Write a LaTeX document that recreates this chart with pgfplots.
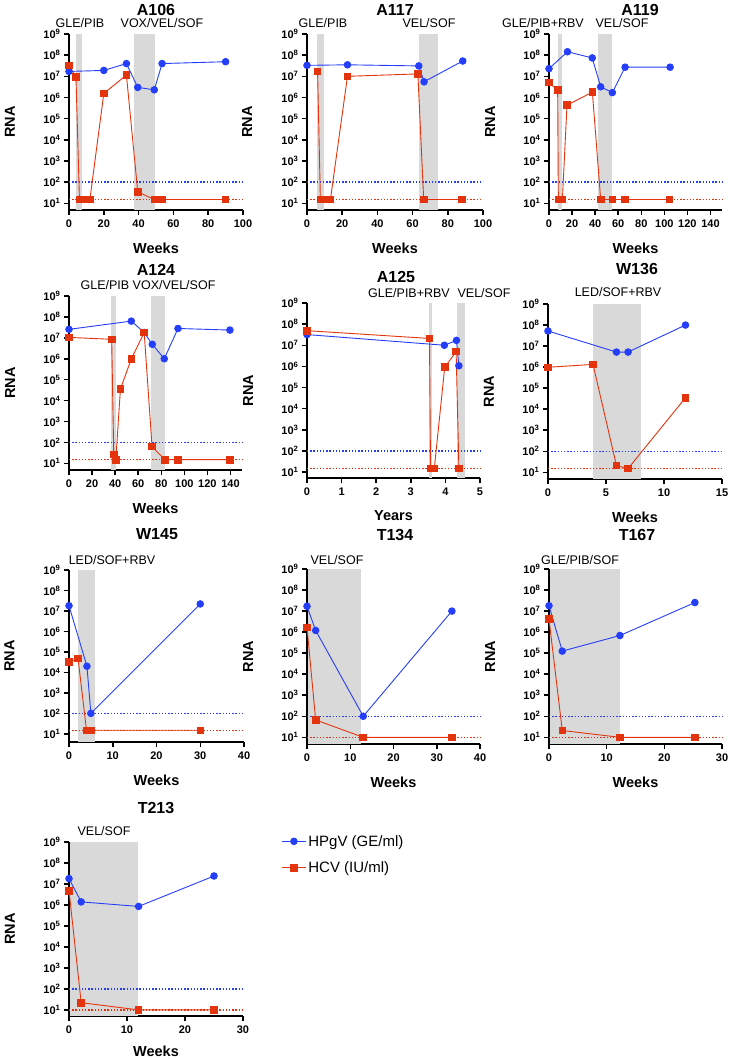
\documentclass[border=0pt]{standalone}
\usepackage{pgfplots}
\pgfplotsset{compat=1.18}
\usepackage{fontspec}
\setmainfont{Liberation Sans}
\definecolor{cblue}{RGB}{36,62,250}
\definecolor{cred}{RGB}{228,52,14}
\definecolor{bandgray}{RGB}{217,217,217}
\newcommand{\tf}{\bfseries\fontsize{11}{13}\selectfont}
\newcommand{\tp}[1]{{\tf 10\textsuperscript{#1}}}
\pgfplotsset{every axis/.append style={
    scale only axis, ymax=1e9, xmin=0,
    axis x line=bottom, axis y line=left,
    axis line style={-, line width=1.5pt, black},
    tick style={line width=1.5pt, black},
    tick align=outside, major tick length=5pt,
    ytick={1e1,1e2,1e3,1e4,1e5,1e6,1e7,1e8,1e9},
    yticklabels={\tp{1},\tp{2},\tp{3},\tp{4},\tp{5},\tp{6},\tp{7},\tp{8},\tp{9}},
    xticklabel={\tf\pgfmathprintnumber{\tick}},
    yminorticks=false, xminorticks=false,
    xticklabel style={yshift=-1.5pt},
    xlabel style={at={(axis description cs:0.5,0)}, anchor=center, yshift=-38pt, font=\bfseries\fontsize{14.5}{17}\selectfont},
    ylabel style={at={(axis description cs:-0.34,0.5)}, anchor=center, font=\bfseries\fontsize{14.5}{17}\selectfont},
    clip=false,
  }}
\newcommand{\bandplot}[3]{\addplot[fill=bandgray, draw=none, forget plot] coordinates {(#1,#3) (#2,#3) (#2,1e9) (#1,1e9)};}
\newcommand{\ttl}[1]{\bfseries\fontsize{16}{19}\selectfont #1}
\newcommand{\trt}[1]{\fontsize{12.5}{15}\selectfont #1}
\begin{document}
\begin{tikzpicture}
\useasboundingbox (0pt,0pt) rectangle (730pt,-1059pt);

% A106
\begin{axis}[ymode=log, ymin=4.8, anchor=south west, at={(69pt,-210pt)}, width=174pt, height=176pt, xmax=100, xtick={0,20,...,100}, xlabel=Weeks, ylabel=RNA, /pgf/number format/assume math mode=true]
\bandplot{4}{7.5}{4.8}
\bandplot{37.5}{49.5}{4.8}
\addplot[cblue, line width=1.3pt, dash pattern=on 1.3pt off 1.9pt, forget plot] coordinates {(0,100) (100,100)};
\addplot[cred, line width=1.3pt, dash pattern=on 1.3pt off 1.9pt, forget plot] coordinates {(0,15) (100,15)};
\addplot[cblue, line width=0.9pt, mark=*, mark size=3.3pt, mark options={solid, fill=cblue}] coordinates {(0,1.7e7) (20,1.9e7) (33,4e7) (39.5,3e6) (49,2.3e6) (53.5,4e7) (90,4.9e7)};
\addplot[cred, line width=0.9pt, mark=square*, mark size=3.3pt, mark options={solid, fill=cred}] coordinates {(0,3.2e7) (4,9.5e6) (6,15) (9,15) (12,15) (20,1.55e6) (33,1.15e7) (39.5,35) (49,15) (53.5,15) (90,15)};
\end{axis}
\node at (156pt,-10pt) {\ttl{A106}};
\node at (80pt,-23pt) {\trt{GLE/PIB}};
\node at (162pt,-23pt) {\trt{VOX/VEL/SOF}};

% A117
\begin{axis}[ymode=log, ymin=4.8, anchor=south west, at={(307pt,-210pt)}, width=176pt, height=176pt, xmax=100, xtick={0,20,...,100}, xlabel=Weeks, ylabel=RNA, /pgf/number format/assume math mode=true]
\bandplot{5.7}{9.5}{4.8}
\bandplot{63.5}{74.2}{4.8}
\addplot[cblue, line width=1.3pt, dash pattern=on 1.3pt off 1.9pt, forget plot] coordinates {(0,100) (100,100)};
\addplot[cred, line width=1.3pt, dash pattern=on 1.3pt off 1.9pt, forget plot] coordinates {(0,15) (100,15)};
\addplot[cblue, line width=0.9pt, mark=*, mark size=3.3pt, mark options={solid, fill=cblue}] coordinates {(0,3.3e7) (23,3.5e7) (63.5,3.1e7) (66.5,5.5e6) (88.5,5.3e7)};
\addplot[cred, line width=0.9pt, mark=square*, mark size=3.3pt, mark options={solid, fill=cred}] coordinates {(6,1.7e7) (7.6,15) (10.4,15) (13.3,15) (23,1.0e7) (63,1.3e7) (66.3,15) (88,15)};
\end{axis}
\node at (395pt,-10pt) {\ttl{A117}};
\node at (323pt,-23pt) {\trt{GLE/PIB}};
\node at (429pt,-23pt) {\trt{VEL/SOF}};

% A119
\begin{axis}[ymode=log, ymin=4.8, anchor=south west, at={(549pt,-210pt)}, width=173pt, height=176pt, xmax=150, xtick={0,20,...,140}, xlabel=Weeks, ylabel=RNA, /pgf/number format/assume math mode=true]
\bandplot{7.5}{11.3}{4.8}
\bandplot{42.8}{54.6}{4.8}
\addplot[cblue, line width=1.3pt, dash pattern=on 1.3pt off 1.9pt, forget plot] coordinates {(0,100) (150,100)};
\addplot[cred, line width=1.3pt, dash pattern=on 1.3pt off 1.9pt, forget plot] coordinates {(0,15) (150,15)};
\addplot[cblue, line width=0.9pt, mark=*, mark size=3.3pt, mark options={solid, fill=cblue}] coordinates {(0,2.3e7) (16,1.45e8) (37.5,7.4e7) (44.8,3.2e6) (54.9,1.7e6) (66,2.7e7) (105,2.7e7)};
\addplot[cred, line width=0.9pt, mark=square*, mark size=3.3pt, mark options={solid, fill=cred}] coordinates {(0,5.1e6) (7.5,2.2e6) (8.1,15) (11.6,15) (15.6,4.3e5) (37.6,1.8e6) (44.8,15) (54.9,15) (65.9,15) (104.5,15)};
\end{axis}
\node at (640pt,-10pt) {\ttl{A119}};
\node at (543pt,-23pt) {\trt{GLE/PIB+RBV}};
\node at (622pt,-23pt) {\trt{VEL/SOF}};

% A124
\begin{axis}[ymode=log, ymin=4.8, anchor=south west, at={(69pt,-470pt)}, width=173pt, height=174pt, xmax=150, xtick={0,20,...,140}, xlabel=Weeks, ylabel=RNA, /pgf/number format/assume math mode=true]
\bandplot{36.5}{40.9}{4.8}
\bandplot{71}{83.2}{4.8}
\addplot[cblue, line width=1.3pt, dash pattern=on 1.3pt off 1.9pt, forget plot] coordinates {(0,100) (150,100)};
\addplot[cred, line width=1.3pt, dash pattern=on 1.3pt off 1.9pt, forget plot] coordinates {(0,15) (150,15)};
\addplot[cblue, line width=0.9pt, mark=*, mark size=3.3pt, mark options={solid, fill=cblue}] coordinates {(0,2.55e7) (54,6.3e7) (65.2,1.8e7) (72.2,4.9e6) (82.6,1.0e6) (94.5,2.8e7) (139.5,2.35e7)};
\addplot[cred, line width=0.9pt, mark=square*, mark size=3.3pt, mark options={solid, fill=cred}] coordinates {(0,1.05e7) (37,8.5e6) (38.8,27) (40.6,15) (44.6,3.6e4) (54,9.7e5) (65.2,1.8e7) (72,63) (83,15) (94.5,15) (139.5,15)};
\end{axis}
\node at (156pt,-270pt) {\ttl{A124}};
\node at (148pt,-285pt) {\trt{GLE/PIB VOX/VEL/SOF}};

% A125
\begin{axis}[ymode=log, ymin=5.2, anchor=south west, at={(307pt,-478pt)}, width=173pt, height=175pt, xmax=5, xtick={0,1,...,5}, xlabel=Years, ylabel=RNA, /pgf/number format/assume math mode=true]
\bandplot{3.53}{3.62}{5.2}
\bandplot{4.34}{4.56}{5.2}
\addplot[cblue, line width=1.3pt, dash pattern=on 1.3pt off 1.9pt, forget plot] coordinates {(0,100) (5,100)};
\addplot[cred, line width=1.3pt, dash pattern=on 1.3pt off 1.9pt, forget plot] coordinates {(0,15) (5,15)};
\addplot[cblue, line width=0.9pt, mark=*, mark size=3.3pt, mark options={solid, fill=cblue}] coordinates {(0,3.2e7) (3.97,1.0e7) (4.32,1.7e7) (4.39,1.07e6)};
\addplot[cred, line width=0.9pt, mark=square*, mark size=3.3pt, mark options={solid, fill=cred}] coordinates {(0,4.9e7) (3.54,2.1e7) (3.57,15) (3.68,15) (3.98,9.1e5) (4.31,5e6) (4.39,15)};
\end{axis}
\node at (396pt,-277pt) {\ttl{A125}};
\node at (409pt,-293pt) {\trt{GLE/PIB+RBV}};
\node at (484pt,-293pt) {\trt{VEL/SOF}};

% W136
\begin{axis}[ymode=log, ymin=4.8, anchor=south west, at={(548pt,-479pt)}, width=174pt, height=175pt, xmax=15, xtick={0,5,10,15}, xlabel=Weeks, ylabel=RNA, /pgf/number format/assume math mode=true]
\bandplot{3.9}{8}{4.8}
\addplot[cblue, line width=1.3pt, dash pattern=on 1.3pt off 1.9pt, forget plot] coordinates {(0,100) (15,100)};
\addplot[cred, line width=1.3pt, dash pattern=on 1.3pt off 1.9pt, forget plot] coordinates {(0,15) (15,15)};
\addplot[cblue, line width=0.9pt, mark=*, mark size=3.3pt, mark options={solid, fill=cblue}] coordinates {(0,5.2e7) (5.9,5.2e6) (6.9,5.2e6) (11.85,1e8)};
\addplot[cred, line width=0.9pt, mark=square*, mark size=3.3pt, mark options={solid, fill=cred}] coordinates {(0,9.8e5) (3.88,1.35e6) (5.9,21) (6.9,15) (11.85,3.5e4)};
\end{axis}
\node at (637pt,-269pt) {\ttl{W136}};
\node at (618pt,-292pt) {\trt{LED/SOF+RBV}};

% W145
\begin{axis}[ymode=log, ymin=4, anchor=south west, at={(69pt,-742pt)}, width=175pt, height=172pt, xmax=40, xtick={0,10,...,40}, xlabel=Weeks, ylabel=RNA, /pgf/number format/assume math mode=true]
\bandplot{2}{6}{4}
\addplot[cblue, line width=1.3pt, dash pattern=on 1.3pt off 1.9pt, forget plot] coordinates {(0,100) (40,100)};
\addplot[cred, line width=1.3pt, dash pattern=on 1.3pt off 1.9pt, forget plot] coordinates {(0,15) (40,15)};
\addplot[cblue, line width=0.9pt, mark=*, mark size=3.3pt, mark options={solid, fill=cblue}] coordinates {(0,1.8e7) (4.1,2.0e4) (5,100) (30,2.2e7)};
\addplot[cred, line width=0.9pt, mark=square*, mark size=3.3pt, mark options={solid, fill=cred}] coordinates {(0,3.2e4) (2.06,4.9e4) (4,15) (5,15) (30,15)};
\end{axis}
\node at (157pt,-534pt) {\ttl{W145}};
\node at (112pt,-560pt) {\trt{LED/SOF+RBV}};

% T134
\begin{axis}[ymode=log, ymin=4.8, anchor=south west, at={(307pt,-744pt)}, width=173pt, height=175pt, xmax=40, xtick={0,10,...,40}, xlabel=Weeks, ylabel=RNA, /pgf/number format/assume math mode=true]
\bandplot{0.17}{12.5}{4.8}
\addplot[cblue, line width=1.3pt, dash pattern=on 1.3pt off 1.9pt, forget plot] coordinates {(0,100) (40,100)};
\addplot[cred, line width=1.3pt, dash pattern=on 1.3pt off 1.9pt, forget plot] coordinates {(0,10) (40,10)};
\addplot[cblue, line width=0.9pt, mark=*, mark size=3.3pt, mark options={solid, fill=cblue}] coordinates {(0,1.7e7) (2,1.2e6) (13,100) (33.5,1e7)};
\addplot[cred, line width=0.9pt, mark=square*, mark size=3.3pt, mark options={solid, fill=cred}] coordinates {(0,1.7e6) (2,67) (13,10) (33.5,10)};
\end{axis}
\node at (395pt,-535pt) {\ttl{T134}};
\node at (337pt,-560pt) {\trt{VEL/SOF}};

% T167
\begin{axis}[ymode=log, ymin=4.8, anchor=south west, at={(549pt,-744pt)}, width=173pt, height=175pt, xmax=30, xtick={0,10,20,30}, xlabel=Weeks, ylabel=RNA, /pgf/number format/assume math mode=true]
\bandplot{0.13}{12.3}{4.8}
\addplot[cblue, line width=1.3pt, dash pattern=on 1.3pt off 1.9pt, forget plot] coordinates {(0,100) (30,100)};
\addplot[cred, line width=1.3pt, dash pattern=on 1.3pt off 1.9pt, forget plot] coordinates {(0,10) (30,10)};
\addplot[cblue, line width=0.9pt, mark=*, mark size=3.3pt, mark options={solid, fill=cblue}] coordinates {(0,1.8e7) (2.3,1.25e5) (12.3,6.9e5) (25.3,2.55e7)};
\addplot[cred, line width=0.9pt, mark=square*, mark size=3.3pt, mark options={solid, fill=cred}] coordinates {(0,4.1e6) (2.3,21) (12.3,10) (25.3,10)};
\end{axis}
\node at (637pt,-535pt) {\ttl{T167}};
\node at (580pt,-560pt) {\trt{GLE/PIB/SOF}};

% T213
\begin{axis}[ymode=log, ymin=5.1, anchor=south west, at={(69pt,-1016pt)}, width=174pt, height=174pt, xmax=30, xtick={0,10,20,30}, xlabel=Weeks, ylabel=RNA, /pgf/number format/assume math mode=true,
  xlabel style={yshift=3pt},
  legend style={at={(axis description cs:1.22,1.052)}, anchor=north west, draw=none, fill=none, inner sep=0pt, row sep=10pt, font=\fontsize{15}{18}\selectfont},
  legend cell align=left,
  legend image code/.code={\draw[#1, mark repeat=2, mark phase=2] plot coordinates {(0pt,0pt) (12pt,0pt) (24pt,0pt)};}]
\bandplot{0.13}{11.9}{5.1}
\addplot[cblue, line width=1.3pt, dash pattern=on 1.3pt off 1.9pt, forget plot] coordinates {(0,100) (30,100)};
\addplot[cred, line width=1.3pt, dash pattern=on 1.3pt off 1.9pt, forget plot] coordinates {(0,10) (30,10)};
\addplot[cblue, line width=0.9pt, mark=*, mark size=3.3pt, mark options={solid, fill=cblue}] coordinates {(0,1.8e7) (2.1,1.4e6) (12,8.5e5) (25,2.4e7)};
\addplot[cred, line width=0.9pt, mark=square*, mark size=3.3pt, mark options={solid, fill=cred}] coordinates {(0,4.8e6) (2.1,22) (12,10) (25,10)};
\legend{HPgV (GE/ml), HCV (IU/ml)}
\end{axis}
\node at (156pt,-807.5pt) {\ttl{T213}};
\node at (104pt,-831pt) {\trt{VEL/SOF}};
\end{tikzpicture}
\end{document}
